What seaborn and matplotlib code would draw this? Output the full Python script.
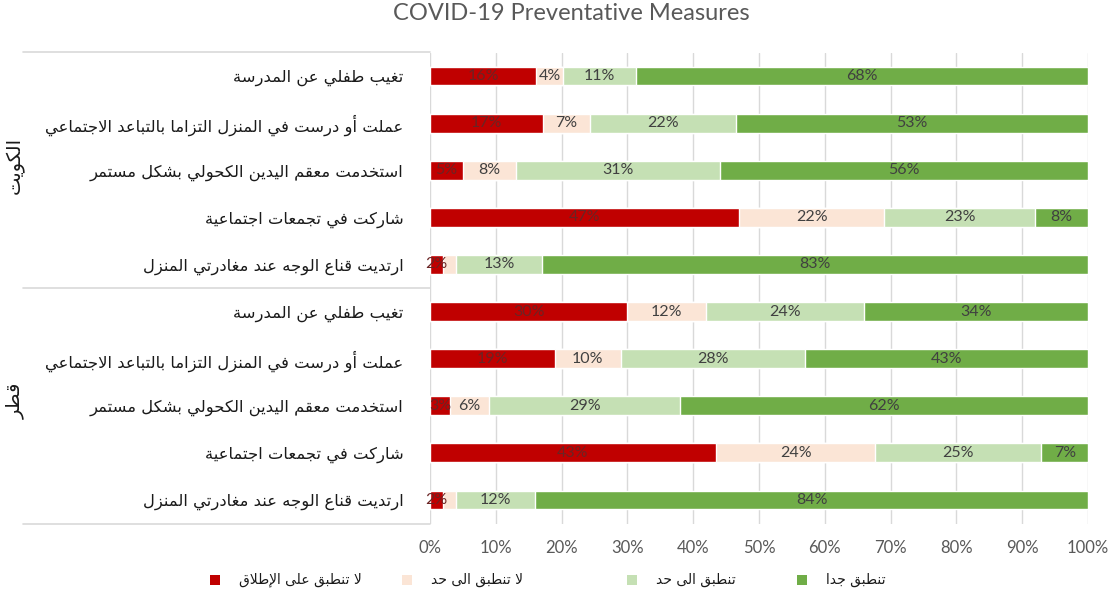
import matplotlib
matplotlib.use("Agg")
import matplotlib.pyplot as plt
import matplotlib.patches as mpatches
import matplotlib.transforms as mtransforms
import numpy as np
import pandas as pd
import seaborn as sns

# ---- data -------------------------------------------------------------
title = "COVID-19 Preventative Measures"
countries = ["الكويت", "قطر"]
measures = [
    "تغيب طفلي عن المدرسة",
    "عملت أو درست في المنزل التزاما بالتباعد الاجتماعي",
    "استخدمت معقم اليدين الكحولي بشكل مستمر",
    "شاركت في تجمعات اجتماعية",
    "ارتديت قناع الوجه عند مغادرتي المنزل",
]
levels = ["لا تنطبق على الإطلاق", "لا تنطبق الى حد", "تنطبق الى حد", "تنطبق جدا"]
colors = ["#C00000", "#FBE5D6", "#C5E0B4", "#70AD47"]

# percentages per measure, in the order of `levels`
kuwait_not_at_all = [16, 17, 5, 47, 2]
kuwait_somewhat_not = [4, 7, 8, 22, 2]
kuwait_somewhat = [11, 22, 31, 23, 13]
kuwait_very = [68, 53, 56, 8, 83]

qatar_not_at_all = [30, 19, 3, 43, 2]
qatar_somewhat_not = [12, 10, 6, 24, 2]
qatar_somewhat = [24, 28, 29, 25, 12]
qatar_very = [34, 43, 62, 7, 84]

x_ticks = [0, 10, 20, 30, 40, 50, 60, 70, 80, 90, 100]

# ---- Arabic shaping (contextual forms + visual order) -----------------
def _forms(base, dual=True):
    if dual:
        return (base, base + 1, base + 2, base + 3)
    return (base, base + 1, None, None)

AR_FORMS = {
    "ء": (0xFE80, None, None, None),
    "آ": _forms(0xFE81, False), "أ": _forms(0xFE83, False),
    "ؤ": _forms(0xFE85, False), "إ": _forms(0xFE87, False),
    "ئ": _forms(0xFE89), "ا": _forms(0xFE8D, False), "ب": _forms(0xFE8F),
    "ة": _forms(0xFE93, False), "ت": _forms(0xFE95), "ث": _forms(0xFE99),
    "ج": _forms(0xFE9D), "ح": _forms(0xFEA1), "خ": _forms(0xFEA5),
    "د": _forms(0xFEA9, False), "ذ": _forms(0xFEAB, False),
    "ر": _forms(0xFEAD, False), "ز": _forms(0xFEAF, False),
    "س": _forms(0xFEB1), "ش": _forms(0xFEB5), "ص": _forms(0xFEB9),
    "ض": _forms(0xFEBD), "ط": _forms(0xFEC1), "ظ": _forms(0xFEC5),
    "ع": _forms(0xFEC9), "غ": _forms(0xFECD), "ف": _forms(0xFED1),
    "ق": _forms(0xFED5), "ك": _forms(0xFED9), "ل": _forms(0xFEDD),
    "م": _forms(0xFEE1), "ن": _forms(0xFEE5), "ه": _forms(0xFEE9),
    "و": _forms(0xFEED, False), "ى": _forms(0xFEEF, False), "ي": _forms(0xFEF1),
}
LAM_ALEF = {"ا": (0xFEFB, 0xFEFC), "أ": (0xFEF7, 0xFEF8),
            "إ": (0xFEF9, 0xFEFA), "آ": (0xFEF5, 0xFEF6)}


def shape_arabic(text):
    tokens = []
    i = 0
    while i < len(text):
        ch = text[i]
        if ch == "ل" and i + 1 < len(text) and text[i + 1] in LAM_ALEF:
            tokens.append(("LA", text[i + 1]))
            i += 2
        else:
            tokens.append(("CH", ch))
            i += 1

    def is_letter(tok):
        return tok[0] == "LA" or tok[1] in AR_FORMS

    def is_dual(tok):
        return tok[0] == "CH" and tok[1] in AR_FORMS and AR_FORMS[tok[1]][2] is not None

    out = []
    for k, tok in enumerate(tokens):
        prev_joins = k > 0 and is_dual(tokens[k - 1]) and is_letter(tok)
        if tok[0] == "LA":
            iso, fin = LAM_ALEF[tok[1]]
            out.append(chr(fin if prev_joins else iso))
            continue
        ch = tok[1]
        if ch not in AR_FORMS:
            out.append(ch)
            continue
        iso, fin, ini, med = AR_FORMS[ch]
        next_joins = is_dual(tok) and k + 1 < len(tokens) and is_letter(tokens[k + 1])
        if prev_joins and next_joins:
            out.append(chr(med))
        elif prev_joins:
            out.append(chr(fin))
        elif next_joins:
            out.append(chr(ini))
        else:
            out.append(chr(iso))
    return "".join(out)[::-1]


# ---- table ------------------------------------------------------------
series = {
    "الكويت": [kuwait_not_at_all, kuwait_somewhat_not, kuwait_somewhat, kuwait_very],
    "قطر": [qatar_not_at_all, qatar_somewhat_not, qatar_somewhat, qatar_very],
}
rows = []
for c in countries:
    for m_idx, m in enumerate(measures):
        vals = [series[c][lvl][m_idx] for lvl in range(4)]
        rows.append({"row": f"{c}-{m_idx}", "country": c, "measure": m,
                     **{levels[l]: vals[l] for l in range(4)}})
df = pd.DataFrame(rows)
raw = df[levels].to_numpy(dtype=float)
share = raw / raw.sum(axis=1, keepdims=True) * 100.0
cum = np.cumsum(share, axis=1)
order = df["row"].tolist()

# ---- figure -----------------------------------------------------------
sns.set_theme(style="white")
plt.rcParams["font.family"] = ["Lato", "DejaVu Sans"]

W, H = 1113, 600
fig = plt.figure(figsize=(W / 100, H / 100), dpi=100)
ax = fig.add_axes([430 / W, 1 - 523.5 / H, 658 / W, 471 / H])

# stacked bars: draw cumulative totals from the outermost layer inwards
for lvl in range(3, -1, -1):
    sns.barplot(x=cum[:, lvl], y=order, order=order, orient="h",
                color=colors[lvl], saturation=1, width=0.4, ax=ax, zorder=3)

# segment labels (the tiny second segment of a row shares its spot with the first)
for r in range(len(order)):
    for lvl in range(4):
        if lvl == 1 and share[r, lvl] < 3:
            continue
        left = cum[r, lvl] - share[r, lvl]
        mid = left + share[r, lvl] / 2
        txt_color = "#6a2424" if lvl == 0 else "#404040"
        ax.text(mid, r, f"{int(raw[r, lvl])}%", ha="center", va="center",
                fontsize=11.5, color=txt_color, zorder=5)

ax.set_xlim(0, 100)
ax.set_ylim(len(order) - 0.5, -0.5)
ax.set_xticks(x_ticks)
ax.set_xticklabels([f"{t}%" for t in x_ticks], fontsize=12, color="#595959")
ax.xaxis.grid(True, color="#d9d9d9", linewidth=1, zorder=0)
ax.yaxis.grid(False)
for s in ax.spines.values():
    s.set_visible(False)
ax.tick_params(axis="x", length=0, pad=12)
ax.tick_params(axis="y", length=0, pad=19)
ax.set_xlabel("")
ax.set_ylabel("")

ax.set_yticks(range(len(order)))
ax.set_yticklabels([shape_arabic(m) for m in df["measure"]],
                   fontsize=11.8, color="#1a1a1a", family="DejaVu Sans")

# category group separators and group names
trans = mtransforms.blended_transform_factory(ax.transAxes, ax.transData)
x0 = (23 - 430) / 658
for yb in [-0.5, 4.5, 9.5]:
    ax.plot([x0, 0], [yb, yb], transform=trans, color="#d9d9d9",
            linewidth=1.2, clip_on=False, zorder=1)
xg = (15 - 430) / 658
for g, c in enumerate(countries):
    ax.text(xg, g * 5 + 1.9, shape_arabic(c), transform=trans, rotation=90,
            ha="center", va="center", fontsize=14, color="#1a1a1a",
            family="DejaVu Sans")

fig.text(571 / W, 1 - 14 / H, title, ha="center", va="center",
         fontsize=17, color="#595959")

# legend row: square key followed by its label
legend_x = [215, 407, 632, 802]
legend_y = 1 - 580 / H
sq = 10
for xk, col, lab in zip(legend_x, colors, levels):
    fig.patches.append(mpatches.Rectangle(
        ((xk - sq / 2) / W, legend_y - sq / 2 / H), sq / W, sq / H,
        transform=fig.transFigure, facecolor=col, edgecolor="none"))
    fig.text((xk + 24) / W, legend_y, shape_arabic(lab), ha="left", va="center",
             fontsize=10, color="#1a1a1a", family="DejaVu Sans")

fig.savefig("out.png", dpi=100, facecolor="white")
